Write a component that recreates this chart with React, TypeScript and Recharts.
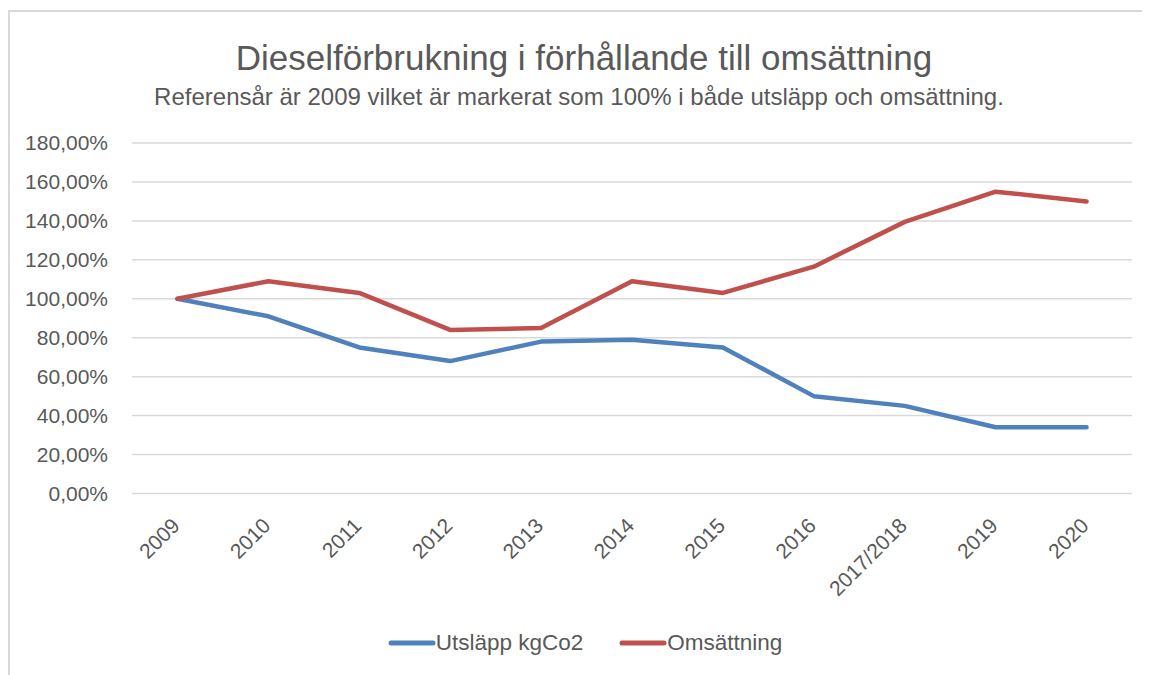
import React from 'react';
import { LineChart, Line, XAxis, YAxis, CartesianGrid, Legend } from 'recharts';

const categories = ['2009', '2010', '2011', '2012', '2013', '2014', '2015', '2016', '2017/2018', '2019', '2020'];
const utslapp = [100, 91, 75, 68, 78, 79, 75, 50, 45, 34, 34];
const omsattning = [100, 109, 103, 84, 85, 109, 103, 116.5, 139.5, 155, 150];
const yTicks = [0, 20, 40, 60, 80, 100, 120, 140, 160, 180];

const seriesNames = { utslapp: 'Utsläpp kgCo2', omsattning: 'Omsättning' };
const colors = { utslapp: '#4F81BD', omsattning: '#C0504D' };

const data = categories.map((c, i) => ({ year: c, utslapp: utslapp[i], omsattning: omsattning[i] }));

const FONT = "'Liberation Sans', Arial, sans-serif";
const TEXT = '#595959';

const XTick = (props: any) => {
  const { x, y, payload } = props;
  const px = x + 3.5;
  const py = y + 33.5;
  return (
    <text x={px} y={py} transform={`rotate(-45 ${px} ${py})`} textAnchor="end" fill={TEXT} fontSize={21} fontFamily={FONT}>
      {payload.value}
    </text>
  );
};

const LegendContent = () => (
  <div style={{ display: 'flex', justifyContent: 'center', alignItems: 'center', height: 30, paddingLeft: 30, fontFamily: FONT, fontSize: 22.5, color: TEXT }}>
    {(['utslapp', 'omsattning'] as const).map((k, i) => (
      <div key={k} style={{ display: 'flex', alignItems: 'center', marginRight: i === 0 ? 36 : 0 }}>
        <svg width={48} height={10} style={{ marginRight: 0 }}>
          <line x1={3} y1={5} x2={45} y2={5} stroke={colors[k]} strokeWidth={5} strokeLinecap="round" />
        </svg>
        <span>{seriesNames[k]}</span>
      </div>
    ))}
  </div>
);

export default function App() {
  return (
    <div style={{ position: 'relative', width: 1142, height: 667, fontFamily: FONT }}>
      <div style={{ position: 'absolute', left: 0, top: 2, width: 1142, height: 665, borderLeft: '2px solid #d9d9d9', borderTop: '2px solid #d9d9d9', boxSizing: 'border-box' }} />
      <svg width={1142} height={120} style={{ position: 'absolute', left: 0, top: 0 }}>
        <text x={576} y={62} textAnchor="middle" fontSize={35} fill={TEXT} fontFamily={FONT}>
          Dieselförbrukning i förhållande till omsättning
        </text>
        <text x={571} y={97} textAnchor="middle" fontSize={24} fill={TEXT} fontFamily={FONT}>
          Referensår är 2009 vilket är markerat som 100% i både utsläpp och omsättning.
        </text>
      </svg>
      <div style={{ position: 'absolute', left: 0, top: 0 }}>
        <LineChart width={1142} height={667} data={data} margin={{ top: 135, right: 18, left: 0, bottom: 17 }}>
          <CartesianGrid vertical={false} stroke="#d9d9d9" strokeWidth={1.5} />
          <XAxis dataKey="year" axisLine={false} tickLine={false} tickSize={0} tickMargin={0} height={134.5} interval={0} padding={{ left: 45.45, right: 45.45 }} tick={<XTick />} />
          <YAxis
            domain={[0, 180]}
            ticks={yTicks}
            axisLine={false}
            tickLine={false}
            tickSize={0}
            tickMargin={24}
            width={124}
            interval={0}
            tick={{ fill: TEXT, fontSize: 21, fontFamily: FONT }}
            tickFormatter={(v: number) => v.toFixed(2).replace('.', ',') + '%'}
          />
          <Legend verticalAlign="bottom" content={<LegendContent />} />
          <Line type="linear" dataKey="utslapp" name={seriesNames.utslapp} stroke={colors.utslapp} strokeWidth={4.5} dot={false} strokeLinecap="round" strokeLinejoin="round" isAnimationActive={false} />
          <Line type="linear" dataKey="omsattning" name={seriesNames.omsattning} stroke={colors.omsattning} strokeWidth={4.5} dot={false} strokeLinecap="round" strokeLinejoin="round" isAnimationActive={false} />
        </LineChart>
      </div>
    </div>
  );
}
